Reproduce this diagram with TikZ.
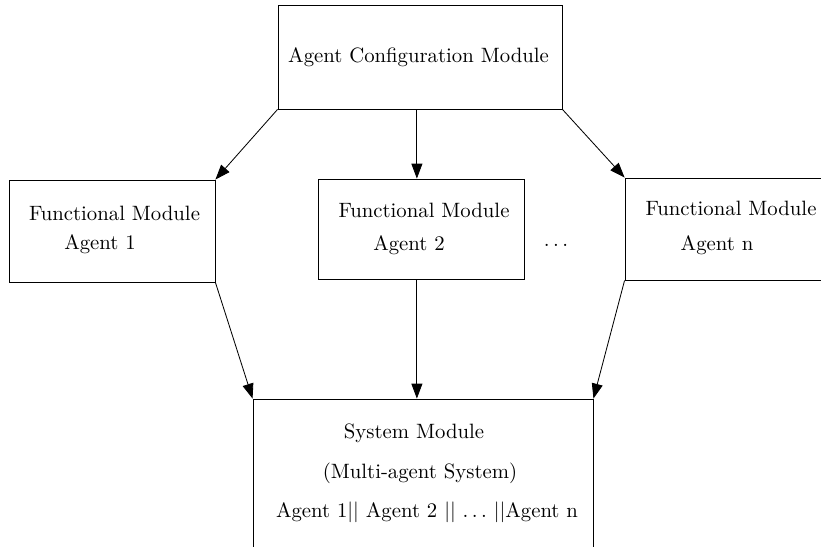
\documentclass[tikz,border=0pt]{standalone}
\usetikzlibrary{arrows.meta}
\tikzset{
  box/.style={draw, minimum width=99.3pt, minimum height=49.2pt},
  lbl/.style={inner sep=0pt},
  flow/.style={-{Triangle[length=7.2pt,width=5.3pt]}}
}
\begin{document}
\begin{tikzpicture}[x=0.482pt,y=-0.482pt]
  \useasboundingbox (0,0) rectangle (821,546);
  \clip (0,0) rectangle (821,546);

  % boxes
  \node[box, minimum width=136.9pt, minimum height=50.1pt] (conf) at (420,57) {};
  \node[box] (fm1) at (112,231) {};
  \node[box, minimum height=48.2pt] (fm2) at (421,229) {};
  \node[box] (fmn) at (728,229) {};
  \node[box, minimum width=163.9pt, minimum height=96.4pt] (sys) at (423,499) {};

  % texts
  \node[lbl] (confT) at (418.5,57) {Agent Configuration Module};
  \node[lbl] (fm1T) at (114.5,213) {Functional Module};
  \node[lbl] (fm1A) at (100,244) {Agent 1};
  \node[lbl] (fm2T) at (424,210) {Functional Module};
  \node[lbl] (fm2A) at (409,245) {Agent 2};
  \node[lbl] (fmnT) at (731,208) {Functional Module};
  \node[lbl] (fmnA) at (717,245) {Agent n};
  \node[lbl] (dots) at (556,245) {$\ldots$};
  \node[lbl] (sysT) at (414,433) {System Module};
  \node[lbl] (sysM) at (420,473) {(Multi-agent System)};
  \node[lbl] (sysA) at (427,512) {Agent 1$||$ Agent 2 $||$ $\ldots$ $||$Agent n};

  % arrows
  \draw[flow] (conf.south west) -- (fm1.north east);
  \draw[flow] ([xshift=-1.5pt]conf.south) -- ([xshift=-1.5pt]conf.south |- fm2.north);
  \draw[flow] (conf.south east) -- (fmn.north west);
  \draw[flow] (fm1.south east) -- (sys.north west);
  \draw[flow] ([xshift=-1.5pt]conf.south |- fm2.south) -- ([xshift=-1.5pt]conf.south |- sys.north);
  \draw[flow] (fmn.south west) -- (sys.north east);
\end{tikzpicture}
\end{document}
